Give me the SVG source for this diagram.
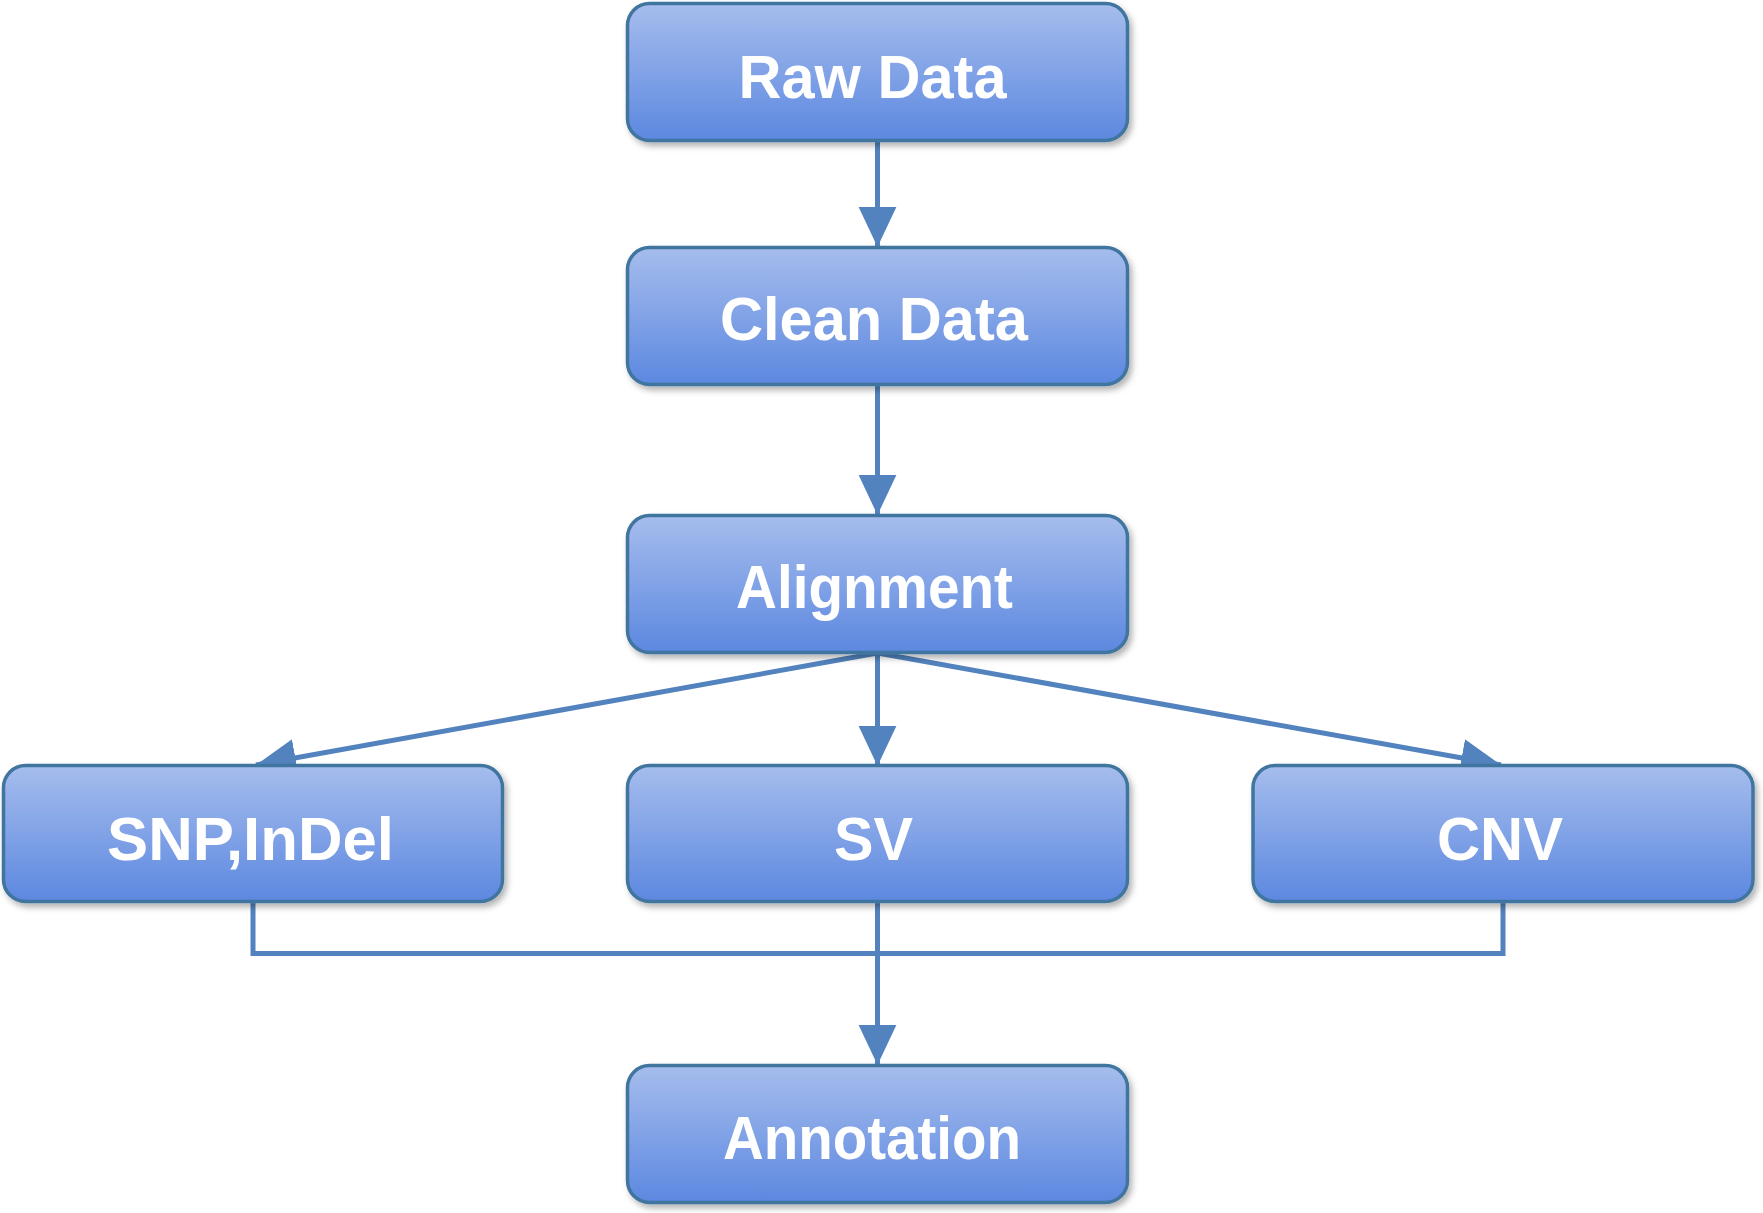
<svg xmlns="http://www.w3.org/2000/svg" width="1763" height="1213" viewBox="0 0 1763 1213">
<style>
.box{fill:url(#g);stroke:#41759f;stroke-width:3.5;filter:url(#sh)}
.lbl{font-family:"Liberation Sans",Arial,sans-serif;font-weight:bold;font-size:62px;fill:#ffffff;text-anchor:middle}
.cn{fill:none;stroke:#5383bf;stroke-width:5;stroke-linejoin:miter}
</style>
<defs>
<linearGradient id="g" x1="0" y1="0" x2="0" y2="1">
<stop offset="0" stop-color="#a6bded"/>
<stop offset="1" stop-color="#5c88e0"/>
</linearGradient>
<filter id="sh" x="-5%" y="-10%" width="112%" height="130%">
<feDropShadow dx="3" dy="4" stdDeviation="3" flood-color="#000" flood-opacity="0.3"/>
</filter>
<marker id="ar" markerUnits="userSpaceOnUse" markerWidth="40" markerHeight="40" viewBox="0 0 36 34" refX="36" refY="17" orient="auto">
<path d="M0,0 L36,17 L0,34 Z" fill="#5383bf"/>
</marker>
</defs>
<g id="connectors">
<line class="cn" x1="877.5" y1="141" x2="877.5" y2="247" marker-end="url(#ar)"/>
<line class="cn" x1="877.5" y1="385" x2="877.5" y2="515" marker-end="url(#ar)"/>
<line class="cn" x1="877.5" y1="653" x2="877.5" y2="766" marker-end="url(#ar)"/>
<line class="cn" x1="877.5" y1="653" x2="256" y2="765" marker-end="url(#ar)"/>
<line class="cn" x1="877.5" y1="653" x2="1501" y2="765" marker-end="url(#ar)"/>
<polyline class="cn" points="253,902 253,953.5 1503,953.5 1503,902"/>
<line class="cn" x1="877.5" y1="902" x2="877.5" y2="1065" marker-end="url(#ar)"/>
</g>
<g id="raw-data">
<rect class="box" x="627.5" y="3.5" width="500" height="137" rx="22"/>
<text class="lbl" x="872.5" y="98" textLength="268" lengthAdjust="spacingAndGlyphs">Raw Data</text>
</g>
<g id="clean-data">
<rect class="box" x="627.5" y="247.5" width="500" height="137" rx="22"/>
<text class="lbl" x="874" y="340" textLength="308" lengthAdjust="spacingAndGlyphs">Clean Data</text>
</g>
<g id="alignment">
<rect class="box" x="627.5" y="515.5" width="500" height="137" rx="22"/>
<text class="lbl" x="874.5" y="608" textLength="277" lengthAdjust="spacingAndGlyphs">Alignment</text>
</g>
<g id="snp-indel">
<rect class="box" x="3.5" y="765.5" width="499" height="136" rx="22"/>
<text class="lbl" x="250.5" y="860" textLength="287" lengthAdjust="spacingAndGlyphs">SNP,InDel</text>
</g>
<g id="sv">
<rect class="box" x="627.5" y="765.5" width="500" height="136" rx="22"/>
<text class="lbl" x="873.5" y="860" textLength="79" lengthAdjust="spacingAndGlyphs">SV</text>
</g>
<g id="cnv">
<rect class="box" x="1253" y="765.5" width="500" height="136" rx="22"/>
<text class="lbl" x="1500" y="860" textLength="126" lengthAdjust="spacingAndGlyphs">CNV</text>
</g>
<g id="annotation">
<rect class="box" x="627.5" y="1065.5" width="500" height="137" rx="22"/>
<text class="lbl" x="872" y="1159" textLength="298" lengthAdjust="spacingAndGlyphs">Annotation</text>
</g>
</svg>
